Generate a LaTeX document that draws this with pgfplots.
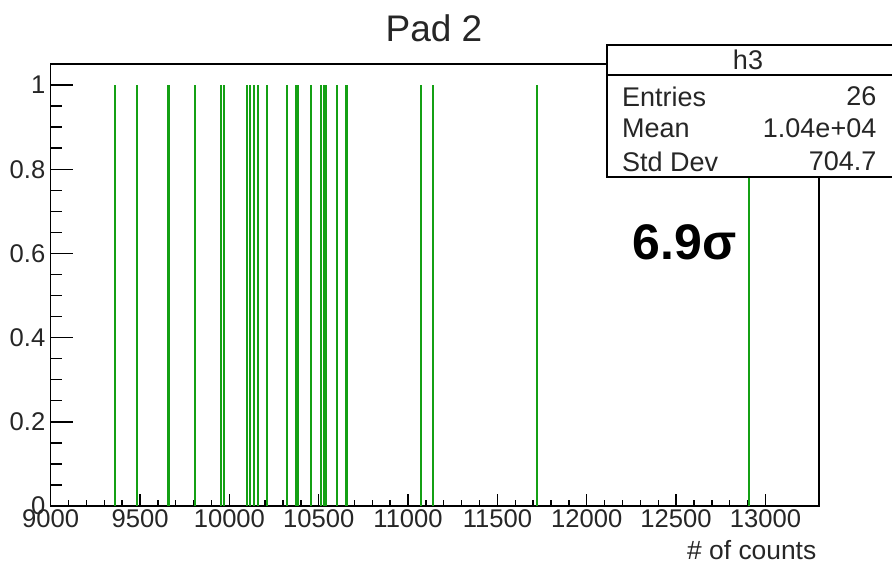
\documentclass[border=0pt]{standalone}
\usepackage{pgfplots}
\pgfplotsset{compat=1.18}
\usepackage{fontspec}
\setmainfont{Liberation Sans}
\definecolor{rootgreen}{RGB}{20,160,20}
\begin{document}
\begin{tikzpicture}
\useasboundingbox (-25.35pt,-28.5pt) rectangle (420.65pt,253pt);
\begin{axis}[
  at={(0,0)}, anchor=south west,
  scale only axis, width=384.15pt, height=221pt,
  xmin=9000, xmax=13300, ymin=0, ymax=1.05,
  xtick={9000,9500,...,13000}, ytick={0,0.2,0.4,0.6,0.8,1},
  scaled x ticks=false, scaled y ticks=false,
  minor x tick num=4, minor y tick num=3,
  tick align=inside, axis line style={line width=0.8pt},
  xtick pos=bottom, ytick pos=left,
  tick style={black, line width=0.7pt},
  xtick style={/pgfplots/major tick length=6pt,/pgfplots/minor tick length=3pt},
  ytick style={/pgfplots/major tick length=11pt,/pgfplots/minor tick length=5.5pt},
  /pgf/number format/assume math mode=true,
  /pgf/number format/set thousands separator={},
  xticklabel={\pgfmathprintnumber[fixed,precision=0,set thousands separator={}]{\tick}},
  yticklabel={\pgfmathprintnumber[fixed,precision=1]{\tick}},
  ticklabel style={font=\fontsize{12.8}{14}\selectfont, text=black!85},
  xticklabel style={inner sep=0pt, yshift=-1.5pt},
  yticklabel style={inner sep=0pt, xshift=-2.5pt},
  clip=false,
]
\addplot[ycomb, rootgreen, line width=1pt, mark=none] coordinates {
(9358,1) (9481,1) (9655,1) (9660,1) (9807,1) (9951,1) (9971,1)
(10098,1) (10118,1) (10138,1) (10158,1) (10209,1) (10321,1)
(10375,1) (10382,1) (10455,1) (10511,1) (10532,1) (10540,1)
(10600,1) (10653,1) (10660,1) (11070,1) (11138,1) (11720,1) (12909,1)
};
\end{axis}
% title
\node[font=\fontsize{18.5}{20}\selectfont, text=black!85] at (191.65pt,239pt) {Pad 2};
% axis label
\node[anchor=east, font=\fontsize{13.2}{15}\selectfont, text=black!85, inner sep=0pt] at (383pt,-22pt) {\# of counts};
% stats box
\draw[line width=0.8pt, fill=white] (278.15pt,164.5pt) rectangle (423pt,230.5pt);
\draw[line width=0.8pt] (278.15pt,215.5pt) -- (423pt,215.5pt);
\node[font=\fontsize{13.5}{15}\selectfont, text=black!85] at (348.65pt,223pt) {h3};
\begin{scope}[font=\fontsize{13.5}{15}\selectfont, text=black!85, inner sep=0pt]
\node[anchor=west] at (285.5pt,204.65pt) {Entries};
\node[anchor=west] at (285.5pt,189pt) {Mean};
\node[anchor=west] at (285.5pt,172.15pt) {Std Dev};
\node[anchor=east] at (413pt,204.65pt) {26};
\node[anchor=east] at (413pt,189pt) {1.04e+04};
\node[anchor=east] at (413pt,172.15pt) {704.7};
\end{scope}
% sigma annotation
\node[font=\bfseries\fontsize{25}{28}\selectfont] at (317pt,132pt) {6.9σ};
\end{tikzpicture}
\end{document}
